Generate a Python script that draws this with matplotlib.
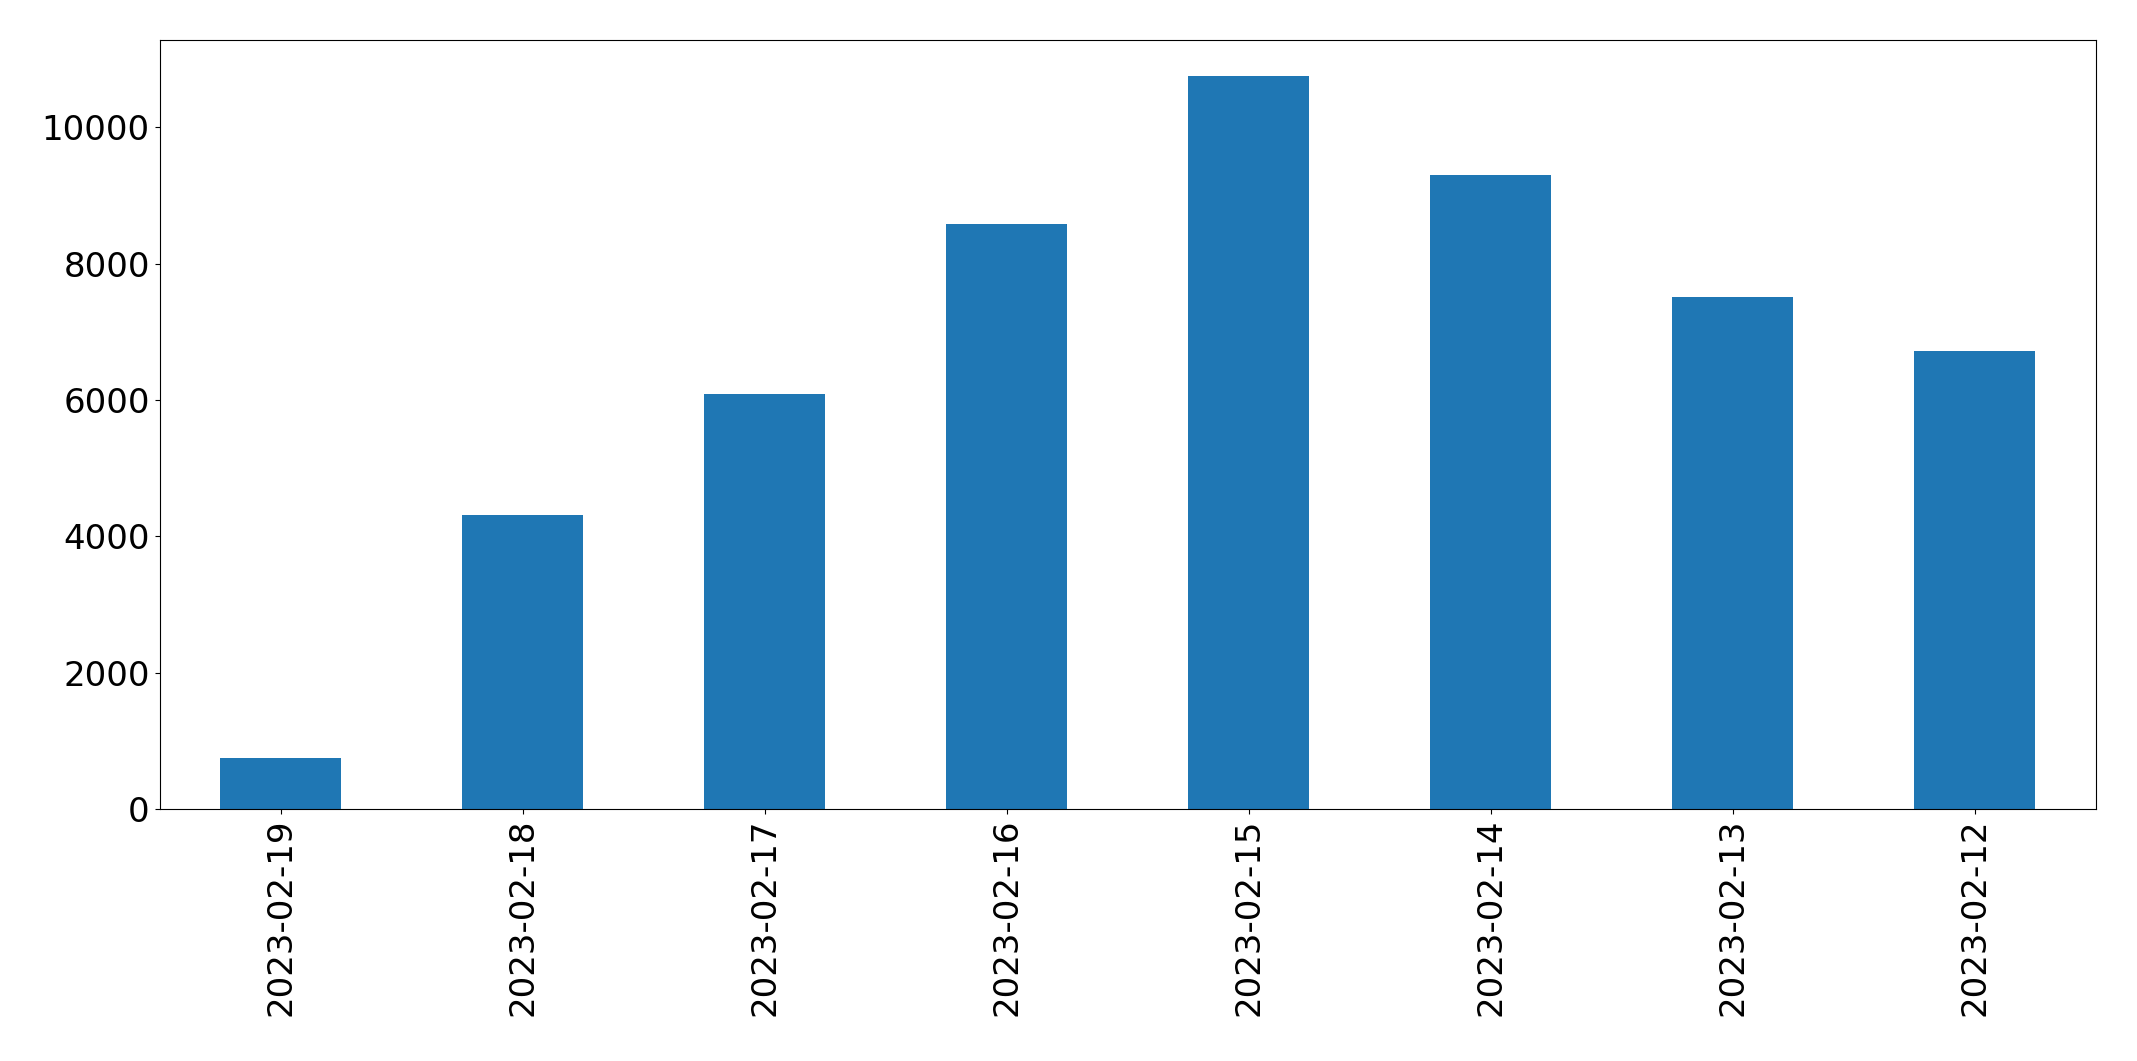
import matplotlib
matplotlib.use("Agg")
import matplotlib.pyplot as plt
import pandas as pd

dates = ["2023-02-19", "2023-02-18", "2023-02-17", "2023-02-16",
         "2023-02-15", "2023-02-14", "2023-02-13", "2023-02-12"]
counts = [750, 4315, 6090, 8580, 10750, 9300, 7510, 6720]

s = pd.Series(counts, index=dates)

fig = plt.figure(figsize=(21.37, 10.61), dpi=100)
ax = fig.add_axes([159.5 / 2137, 1 - 809 / 1061, (2096 - 159.5) / 2137, (809 - 39.5) / 1061])
s.plot(kind="bar", ax=ax, color="#1f77b4")
ax.tick_params(axis="both", labelsize=24.5)
fig.savefig("out.png", dpi=100)
